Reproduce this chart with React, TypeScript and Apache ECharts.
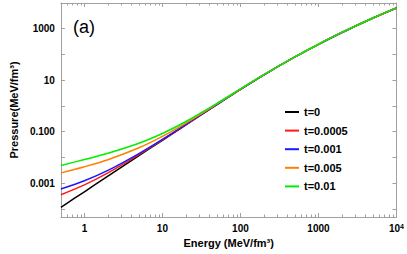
import React, { useEffect, useRef } from 'react';
import * as echarts from 'echarts';

const energy = [0.5, 1, 2, 5, 10, 20, 50, 100, 200, 500, 1000, 2000, 5000, 10000];
const pT0 = [1.14e-4, 4.6e-4, 1.85e-3, 0.0116, 0.046, 0.184, 1.13, 4.4, 16.2, 80.1, 248, 716, 2612, 6430];
const pT00005 = [3.52e-4, 8.46e-4, 2.48e-3, 0.0128, 0.0479, 0.187, 1.136, 4.41, 16.22, 80.13, 248.05, 716.1, 2612.1, 6430.2];
const pT0001 = [5.89e-4, 1.23e-3, 3.1e-3, 0.014, 0.0499, 0.19, 1.142, 4.42, 16.23, 80.16, 248.1, 716.2, 2612.3, 6430.5];
const pT0005 = [2.49e-3, 4.32e-3, 8.12e-3, 0.0235, 0.0654, 0.215, 1.19, 4.5, 16.36, 80.4, 248.5, 716.8, 2613.5, 6432.4];
const pT001 = [4.86e-3, 8.18e-3, 0.0144, 0.0354, 0.0847, 0.247, 1.25, 4.59, 16.52, 80.7, 249, 717.6, 2615, 6434.9];

const seriesNames = ['t=0', 't=0.0005', 't=0.001', 't=0.005', 't=0.01'];
const seriesValues = [pT0, pT00005, pT0001, pT0005, pT001];
const seriesColors = ['#000000', '#ff1a1a', '#1a1aff', '#ff8000', '#00ee00'];

const xTickLabels: Record<string, string> = { '0': '1', '1': '10', '2': '100', '3': '1000', '4': '10{sup|4}' };
const yTickLabels: Record<string, string> = { '3': '1000', '1': '10', '-1': '0.100', '-3': '0.001' };

const xMin = 0.5;
const xMax = 10000;
const yMin = 4.8e-5;
const yMax = 10000;

const FONT = "'Liberation Sans', Arial, sans-serif";
const AXIS_GRAY = '#a0a0a0';

function decade(v: number): string | null {
  const l = Math.log10(v);
  const r = Math.round(l);
  if (Math.abs(l - r) > 1e-6) return null;
  return String(r);
}

export default function App() {
  const ref = useRef<HTMLDivElement>(null);
  useEffect(() => {
    document.body.style.margin = '0';
    const chart = echarts.init(ref.current!, undefined, { renderer: 'svg' });
    const tickBase = { show: true, inside: true, length: 4, lineStyle: { color: AXIS_GRAY, width: 1 } };
    const minorBase = { show: true, splitNumber: 9, length: 2.5, lineStyle: { color: AXIS_GRAY, width: 1 } };
    const lineBase = { show: true, lineStyle: { color: AXIS_GRAY, width: 1 } };
    chart.setOption({
      animation: false,
      backgroundColor: '#ffffff',
      grid: { left: 50, top: 3, right: 10, bottom: 37, containLabel: false },
      legend: {
        orient: 'vertical',
        left: 280,
        top: 100,
        itemWidth: 14,
        itemHeight: 2,
        itemGap: 4.6,
        itemTextGap: 5,
        icon: 'rect',
        textStyle: { fontSize: 11, fontWeight: 'bold', fontFamily: FONT, color: '#000', lineHeight: 14 },
        data: seriesNames,
      },
      xAxis: [
        {
          type: 'log',
          position: 'bottom',
          min: xMin,
          max: xMax,
          logBase: 10,
          name: 'Energy (MeV/fm³)',
          nameLocation: 'middle',
          nameGap: 20,
          nameTextStyle: { fontSize: 11, fontWeight: 'bold', fontFamily: FONT, color: '#000' },
          axisLine: lineBase,
          axisTick: tickBase,
          minorTick: minorBase,
          splitLine: { show: false },
          axisLabel: {
            interval: 0,
            margin: 6,
            showMinLabel: true,
            showMaxLabel: true,
            fontSize: 10,
            fontWeight: 'bold',
            fontFamily: FONT,
            color: '#000',
            formatter: (v: number) => {
              const d = decade(v);
              return d !== null && xTickLabels[d] ? xTickLabels[d] : '';
            },
            rich: {
              sup: { fontSize: 7, fontWeight: 'bold', fontFamily: FONT, color: '#000', verticalAlign: 'top', lineHeight: 8 },
            },
          },
        },
        {
          type: 'log',
          position: 'top',
          min: xMin,
          max: xMax,
          logBase: 10,
          axisLine: lineBase,
          axisTick: tickBase,
          minorTick: minorBase,
          splitLine: { show: false },
          axisLabel: { show: false },
        },
      ],
      yAxis: [
        {
          type: 'log',
          position: 'left',
          min: yMin,
          max: yMax,
          logBase: 10,
          name: 'Pressure(MeV/fm³)',
          nameLocation: 'middle',
          nameGap: 35,
          nameTextStyle: { fontSize: 11, fontWeight: 'bold', fontFamily: FONT, color: '#000' },
          axisLine: lineBase,
          axisTick: tickBase,
          splitLine: { show: false },
          axisLabel: {
            interval: 0,
            margin: 6,
            fontSize: 10,
            fontWeight: 'bold',
            fontFamily: FONT,
            color: '#000',
            formatter: (v: number) => {
              const d = decade(v);
              return d !== null && yTickLabels[d] ? yTickLabels[d] : '';
            },
          },
        },
        {
          type: 'log',
          position: 'right',
          min: yMin,
          max: yMax,
          logBase: 10,
          axisLine: lineBase,
          axisTick: tickBase,
          splitLine: { show: false },
          axisLabel: { show: false },
        },
      ],
      graphic: [
        {
          type: 'text',
          left: 73,
          top: 18,
          style: { text: '(a)', fontSize: 18, fontFamily: FONT, fill: '#000' },
        },
      ],
      series: seriesNames.map((name, i) => ({
        name,
        type: 'line',
        xAxisIndex: 0,
        yAxisIndex: 0,
        showSymbol: false,
        smooth: 0.3,
        color: seriesColors[i],
        lineStyle: { width: 1.5, color: seriesColors[i] },
        data: energy.map((e, j) => [e, seriesValues[i][j]]),
      })),
    });
    return () => chart.dispose();
  }, []);
  return <div ref={ref} style={{ width: 407, height: 254 }} />;
}
